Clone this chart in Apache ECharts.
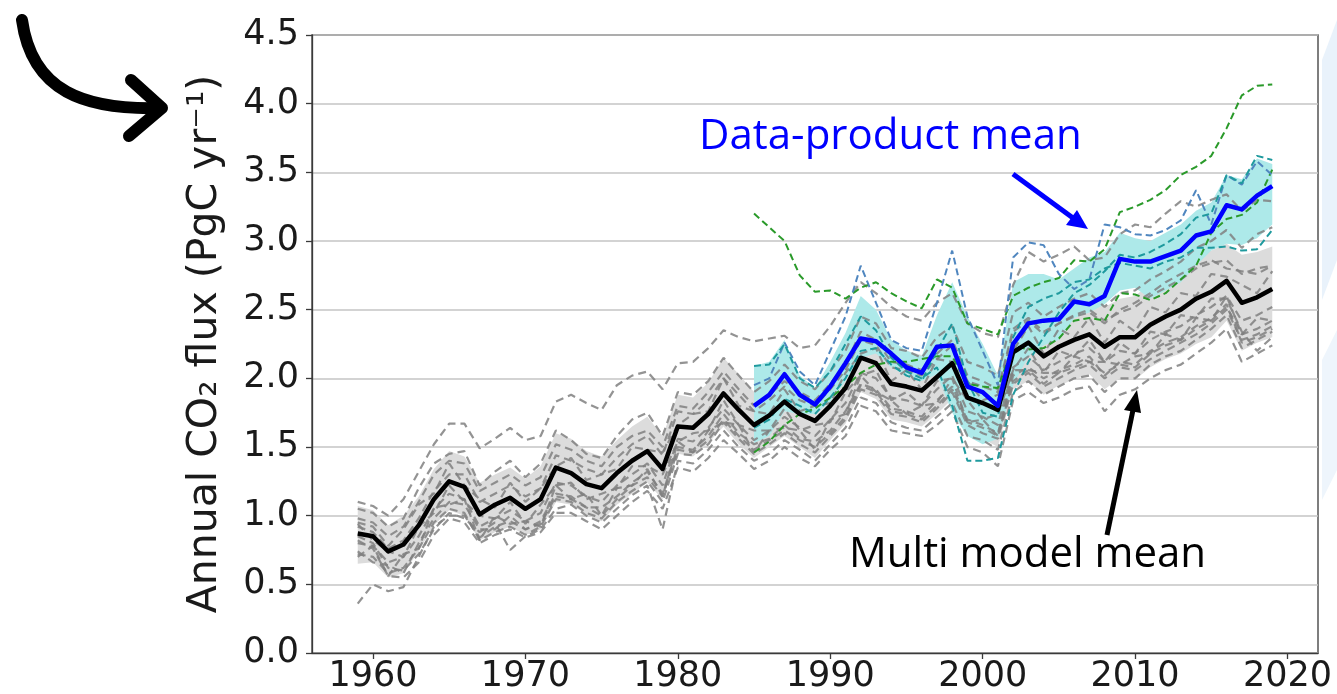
<!DOCTYPE html>
<html><head><meta charset="utf-8">
<script src="https://cdn.jsdelivr.net/npm/echarts@6/dist/echarts.min.js"></script>
<style>html,body{margin:0;padding:0;background:#fff;}#c{width:1337px;height:694px;}</style>
</head><body><div id="c"></div><script>
// ---------- data ----------
const years = []; for (let y = 1959; y <= 2019; y++) years.push(y);
const dpYears = []; for (let y = 1985; y <= 2019; y++) dpYears.push(y);
const xTickLabels = [1960, 1970, 1980, 1990, 2000, 2010, 2020];

const modelMean = [0.87,0.85,0.74,0.79,0.93,1.12,1.25,1.21,1.01,1.08,1.13,1.05,1.12,1.35,1.31,1.23,1.20,1.31,1.40,1.47,1.34,1.65,1.64,1.74,1.89,1.77,1.66,1.73,1.83,1.74,1.69,1.80,1.93,2.15,2.11,1.96,1.94,1.91,2.01,2.11,1.86,1.82,1.77,2.19,2.26,2.16,2.23,2.28,2.32,2.23,2.30,2.30,2.39,2.45,2.50,2.58,2.63,2.71,2.55,2.59,2.65];
const modelLow  = [0.65,0.66,0.55,0.58,0.74,0.93,1.04,1.00,0.82,0.88,0.92,0.86,0.90,1.10,1.08,1.01,0.96,1.08,1.16,1.24,1.12,1.45,1.43,1.53,1.65,1.52,1.42,1.50,1.58,1.50,1.42,1.55,1.67,1.90,1.85,1.70,1.68,1.65,1.74,1.85,1.60,1.56,1.50,1.92,1.98,1.88,1.95,1.99,2.03,1.92,2.00,1.99,2.08,2.14,2.18,2.25,2.30,2.42,2.20,2.26,2.30];
const modelHigh = [1.07,1.04,0.93,1.00,1.14,1.34,1.47,1.43,1.24,1.30,1.35,1.27,1.36,1.60,1.56,1.47,1.43,1.55,1.65,1.72,1.58,1.88,1.86,1.97,2.15,2.03,1.90,1.97,2.07,1.98,1.93,2.05,2.18,2.42,2.36,2.22,2.20,2.17,2.27,2.37,2.12,2.08,2.04,2.45,2.52,2.43,2.50,2.55,2.60,2.52,2.58,2.60,2.69,2.75,2.80,2.88,2.93,2.98,2.90,2.92,2.96];

const models = [
 [1.10,1.07,1.00,1.12,1.32,1.52,1.67,1.67,1.49,1.56,1.64,1.55,1.58,1.83,1.88,1.82,1.77,1.95,2.02,2.05,1.92,2.11,2.12,2.22,2.35,2.30,2.27,2.29,2.31,2.22,2.24,2.38,2.55,2.70,2.62,2.52,2.45,2.42,2.55,2.62,2.40,2.33,2.30,2.68,2.92,2.85,2.90,2.96,2.86,2.88,3.05,3.12,3.10,3.20,3.29,3.25,3.30,3.34,3.22,3.30,3.29],
 [1.05,1.02,0.92,0.98,1.20,1.38,1.45,1.47,1.22,1.32,1.40,1.28,1.38,1.62,1.55,1.45,1.42,1.58,1.70,1.75,1.58,1.90,1.88,1.98,2.15,2.02,1.90,1.98,2.10,1.98,1.92,2.05,2.20,2.45,2.40,2.22,2.20,2.15,2.30,2.38,2.12,2.08,2.02,2.48,2.55,2.45,2.52,2.58,2.62,2.52,2.62,2.64,2.72,2.78,2.85,2.95,3.00,3.08,2.95,3.05,3.10],
 [0.95,0.92,0.78,0.90,1.08,1.16,1.38,1.22,1.12,1.06,1.24,1.10,1.20,1.36,1.42,1.26,1.30,1.34,1.50,1.48,1.46,1.66,1.74,1.76,2.00,1.80,1.76,1.74,1.92,1.76,1.80,1.82,2.04,2.18,2.22,1.98,2.06,1.92,2.14,2.12,1.98,1.84,1.88,2.20,2.38,2.18,2.36,2.30,2.44,2.26,2.42,2.34,2.52,2.48,2.62,2.60,2.76,2.74,2.68,2.62,2.78],
 [0.80,0.78,0.66,0.70,0.85,1.05,1.16,1.12,0.92,0.98,1.04,0.96,1.02,1.24,1.22,1.14,1.10,1.22,1.30,1.38,1.22,1.56,1.54,1.64,1.78,1.66,1.55,1.62,1.72,1.64,1.58,1.70,1.82,2.04,2.00,1.86,1.84,1.80,1.92,2.02,1.76,1.72,1.66,2.08,2.16,2.06,2.12,2.18,2.22,2.12,2.20,2.18,2.28,2.34,2.38,2.46,2.52,2.60,2.42,2.46,2.52],
 [0.70,0.78,0.56,0.72,0.76,1.06,1.08,1.12,0.82,1.00,0.94,0.96,0.92,1.22,1.12,1.16,1.00,1.20,1.22,1.34,1.14,1.54,1.46,1.62,1.68,1.66,1.46,1.62,1.64,1.62,1.48,1.70,1.74,2.02,1.90,1.84,1.74,1.80,1.82,2.00,1.68,1.70,1.58,2.06,2.06,2.04,2.04,2.16,2.12,2.12,2.10,2.16,2.18,2.32,2.28,2.44,2.42,2.60,2.32,2.44,2.42],
 [0.72,0.70,0.58,0.62,0.76,0.95,1.05,1.02,0.82,0.88,0.92,0.86,0.92,1.12,1.10,1.02,0.98,1.10,1.18,1.25,1.10,1.45,1.44,1.52,1.68,1.56,1.45,1.52,1.60,1.52,1.46,1.58,1.70,1.92,1.88,1.74,1.72,1.68,1.78,1.90,1.66,1.60,1.56,1.96,2.04,1.94,2.00,2.06,2.10,2.00,2.08,2.06,2.14,2.20,2.26,2.32,2.40,2.50,2.28,2.32,2.38],
 [0.85,0.80,0.62,0.60,0.72,0.90,1.02,0.98,0.88,0.95,0.75,0.85,0.90,1.05,1.08,1.00,0.95,1.05,1.15,1.22,0.90,1.40,1.38,1.48,1.62,1.50,1.40,1.45,1.55,1.48,1.40,1.52,1.64,1.86,1.82,1.68,1.64,1.62,1.72,1.82,1.58,1.55,1.48,1.90,1.98,1.88,1.94,2.00,2.02,1.90,2.00,2.00,2.10,2.16,2.20,2.28,2.36,2.46,2.22,2.28,2.34],
 [0.36,0.50,0.45,0.48,0.70,0.92,1.00,1.00,0.84,0.92,0.96,0.90,0.94,1.14,1.12,1.06,1.00,1.12,1.22,1.28,1.14,1.48,1.46,1.55,1.70,1.58,1.48,1.55,1.62,1.55,1.50,1.60,1.72,1.95,1.90,1.76,1.74,1.70,1.80,1.92,1.68,1.64,1.58,1.98,2.06,1.96,2.04,2.08,2.12,2.04,2.10,2.08,2.18,2.24,2.28,2.36,2.42,2.52,2.32,2.36,2.42],
 [0.82,0.76,0.56,0.55,0.66,0.86,0.98,0.95,0.80,0.86,0.90,0.84,0.88,1.02,1.02,0.96,0.90,1.00,1.10,1.18,1.05,1.35,1.32,1.42,1.55,1.45,1.34,1.40,1.50,1.42,1.36,1.48,1.58,1.80,1.76,1.62,1.60,1.58,1.66,1.76,1.50,1.46,1.36,1.84,1.90,1.82,1.86,1.92,1.94,1.76,1.88,1.92,2.00,2.06,2.10,2.18,2.26,2.36,2.12,2.18,2.24],
 [0.94,0.82,0.74,0.70,0.92,1.02,1.22,1.10,1.00,0.98,1.10,0.94,1.08,1.22,1.24,1.12,1.16,1.20,1.36,1.36,1.30,1.54,1.60,1.62,1.84,1.66,1.62,1.62,1.78,1.62,1.66,1.68,1.90,2.02,2.06,1.84,1.90,1.80,1.98,2.00,1.84,1.70,1.74,2.06,2.22,2.04,2.20,2.16,2.28,2.12,2.26,2.18,2.34,2.32,2.46,2.44,2.58,2.58,2.34,2.20,2.30],
 [0.98,0.95,0.85,0.92,1.10,1.30,1.40,1.38,1.18,1.24,1.30,1.22,1.28,1.52,1.48,1.40,1.36,1.50,1.58,1.62,1.50,1.80,1.78,1.90,2.05,1.92,1.80,1.88,1.98,1.90,1.84,1.96,2.10,2.34,2.28,2.12,2.10,2.06,2.18,2.28,2.02,1.98,1.92,2.36,2.44,2.34,2.40,2.46,2.50,2.42,2.48,2.52,2.60,2.66,2.72,2.80,2.84,2.86,2.76,2.80,2.82],
 [0.74,0.66,0.64,0.58,0.80,0.98,1.10,1.08,0.90,0.90,1.00,0.90,0.96,1.16,1.14,1.06,1.06,1.14,1.24,1.32,1.16,1.50,1.48,1.58,1.74,1.60,1.52,1.56,1.66,1.56,1.54,1.62,1.76,1.96,1.92,1.78,1.76,1.72,1.84,1.94,1.70,1.66,1.60,2.02,2.08,2.00,2.06,2.10,2.16,2.02,2.12,2.10,2.20,2.26,2.30,2.38,2.44,2.54,2.26,2.30,2.36],
 [0.92,0.88,0.76,0.82,0.98,1.18,1.30,1.30,1.10,1.16,1.22,1.14,1.20,1.44,1.40,1.34,1.30,1.42,1.52,1.58,1.44,1.76,1.74,1.84,2.00,1.88,1.76,1.84,1.94,1.84,1.80,1.92,2.06,2.28,2.24,2.08,2.06,2.02,2.14,2.24,1.98,1.94,1.90,2.34,2.42,2.32,2.40,2.45,2.48,2.40,2.50,2.55,2.62,2.70,2.76,2.82,2.86,2.80,2.78,2.76,2.82]
];

const dpMean = [1.80,1.88,2.03,1.88,1.81,1.94,2.11,2.29,2.27,2.18,2.08,2.04,2.23,2.24,1.94,1.90,1.80,2.25,2.40,2.42,2.43,2.56,2.54,2.60,2.87,2.85,2.85,2.89,2.93,3.04,3.07,3.26,3.23,3.33,3.40];
const dpLow  = [1.53,1.58,1.76,1.74,1.74,1.83,1.98,2.15,2.18,2.08,2.02,1.98,2.03,1.75,1.58,1.52,1.56,1.95,2.16,2.24,2.28,2.44,2.48,2.54,2.64,2.66,2.58,2.64,2.70,2.82,2.93,2.98,2.97,3.02,3.12];
const dpHigh = [2.09,2.12,2.28,2.02,1.93,2.12,2.33,2.60,2.50,2.28,2.20,2.16,2.46,2.70,2.45,2.25,2.02,2.70,2.76,2.76,2.72,2.80,2.88,2.92,3.06,3.02,3.00,3.06,3.12,3.22,3.28,3.48,3.45,3.60,3.56];

const greenHigh = [3.20,3.10,3.00,2.75,2.63,2.64,2.58,2.66,2.70,2.62,2.56,2.51,2.72,2.66,2.40,2.36,2.32,2.60,2.66,2.70,2.73,2.86,2.85,2.94,3.21,3.25,3.30,3.37,3.48,3.54,3.62,3.82,4.06,4.13,4.14];
const greenLow  = [1.46,1.54,1.66,1.74,1.78,1.86,1.94,2.04,2.10,2.12,2.12,2.14,2.16,2.16,1.96,1.94,1.93,2.24,2.21,2.22,2.29,2.42,2.44,2.42,2.62,2.61,2.57,2.62,2.72,2.82,3.06,3.16,3.19,3.28,3.52];
const steelBlue = [1.95,2.00,2.26,2.05,1.95,2.20,2.45,2.82,2.55,2.28,2.22,2.20,2.55,2.93,2.45,2.20,1.95,2.88,2.99,2.97,2.76,2.65,2.72,3.12,3.10,3.05,3.04,3.08,3.15,3.37,3.12,3.48,3.41,3.58,3.48];
const tealA = [2.09,2.10,2.25,2.00,1.93,2.05,2.25,2.45,2.35,2.15,2.05,2.00,2.08,1.80,1.40,1.40,1.42,1.88,2.12,2.30,2.48,2.62,2.68,2.78,2.90,2.88,2.92,2.98,3.05,3.17,3.20,3.48,3.42,3.62,3.59];
const tealB = [1.64,1.70,1.85,1.80,1.74,1.86,2.00,2.20,2.22,2.10,2.02,1.98,2.20,2.40,1.98,1.75,1.72,2.30,2.52,2.58,2.62,2.70,2.72,2.80,2.84,2.82,2.80,2.85,2.88,2.95,2.95,2.96,2.93,2.94,3.08];

// ---------- chart ----------
const pairs = (xs, vs) => xs.map((x, i) => [x, vs[i]]);
function band(xs, lo, hi, color, z) {
  return {
    type: 'custom', z: z, silent: true, clip: true,
    data: [[xs[0], lo[0]]],
    renderItem: function (params, api) {
      const pts = [];
      for (let i = 0; i < xs.length; i++) pts.push(api.coord([xs[i], hi[i]]));
      for (let i = xs.length - 1; i >= 0; i--) pts.push(api.coord([xs[i], lo[i]]));
      return { type: 'polygon', shape: { points: pts }, style: { fill: color } };
    }
  };
}
function dashed(xs, vs, color, z, w, dash) {
  return { type: 'line', data: pairs(xs, vs), symbol: 'none', z: z, silent: true,
    lineStyle: { color: color, width: w || 2, type: dash || [7, 4] } };
}

const series = [];
series.push(band(years, modelLow, modelHigh, '#dcdcdc', 1));
series.push(band(dpYears, dpLow, dpHigh, '#ade9e9', 2));
models.forEach(m => series.push(dashed(years, m, 'rgba(128,128,128,0.85)', 3, 2.2, [8, 5])));
series.push(dashed(dpYears, greenHigh, '#2a9a2a', 4, 2));
series.push(dashed(dpYears, greenLow, '#2a9a2a', 4, 2));
series.push(dashed(dpYears, steelBlue, '#4f86bf', 4, 2));
series.push(dashed(dpYears, tealA, '#1f9a9e', 4, 2));
series.push(dashed(dpYears, tealB, '#1f9a9e', 4, 2));
series.push({ type: 'line', data: pairs(years, modelMean), symbol: 'none', z: 5, silent: true,
  lineStyle: { color: '#000', width: 4.5, join: 'round' } });
series.push({ type: 'line', data: pairs(dpYears, dpMean), symbol: 'none', z: 6, silent: true,
  lineStyle: { color: '#0000ff', width: 4.5, join: 'round' } });

const tickFont = { fontFamily: 'DejaVu Sans', fontSize: 35, color: '#1a1a1a' };

const option = {
  animation: false,
  backgroundColor: '#ffffff',
  grid: { left: 312, right: 19, top: 35, bottom: 39, show: true, borderColor: '#3a3a3a', borderWidth: 1.3, backgroundColor: '#ffffff' },
  xAxis: {
    type: 'value', min: 1956, max: 2022,
    axisLine: { show: true, lineStyle: { color: '#3a3a3a', width: 1.3 } },
    axisTick: { show: true, length: 6, customValues: xTickLabels, lineStyle: { color: '#3a3a3a', width: 1.3 } },
    axisLabel: Object.assign({ margin: 6, customValues: xTickLabels, formatter: v => String(v) }, tickFont),
    splitLine: { show: false }
  },
  yAxis: {
    type: 'value', min: 0, max: 4.5, interval: 0.5,
    name: 'Annual CO\u2082 flux (PgC yr\u207B\u00B9)', nameLocation: 'middle', nameGap: 86,
    nameTextStyle: { fontFamily: 'DejaVu Sans', fontSize: 41, color: '#1a1a1a' },
    axisLine: { show: true, lineStyle: { color: '#3a3a3a', width: 1.3 } },
    axisTick: { show: true, length: 6, lineStyle: { color: '#3a3a3a', width: 1.3 } },
    axisLabel: Object.assign({ margin: 13, formatter: v => v.toFixed(1) }, tickFont),
    splitLine: { show: true, lineStyle: { color: '#c4c4c4', width: 1.6 } }
  },
  series: series,
  graphic: [
    { type: 'polygon', z: -10, silent: true, shape: { points: [[1322, 60], [1337, 20], [1337, 260], [1322, 300]] }, style: { fill: '#e9f2fb' } },
    { type: 'polygon', z: -10, silent: true, shape: { points: [[1322, 360], [1337, 330], [1337, 470], [1322, 500]] }, style: { fill: '#eef5fc' } },
    { type: 'text', x: 699, y: 137, z: 20, silent: true, style: { text: 'Data-product mean', fontFamily: 'Open Sans', fontSize: 42, fill: '#0000ff', verticalAlign: 'middle' } },
    { type: 'text', x: 849, y: 555, z: 20, silent: true, style: { text: 'Multi model mean', fontFamily: 'Open Sans', fontSize: 42, fill: '#000000', verticalAlign: 'middle' } },
    { type: 'line', z: 20, silent: true, shape: { x1: 1013, y1: 174, x2: 1073, y2: 218 }, style: { stroke: '#0000ff', lineWidth: 5 } },
    { type: 'polygon', z: 20, silent: true, shape: { points: [[1088, 229], [1066, 225], [1077, 210]] }, style: { fill: '#0000ff' } },
    { type: 'line', z: 20, silent: true, shape: { x1: 1107, y1: 535, x2: 1133, y2: 410 }, style: { stroke: '#000', lineWidth: 5 } },
    { type: 'polygon', z: 20, silent: true, shape: { points: [[1137, 390], [1141, 413], [1124, 410]] }, style: { fill: '#000' } },
    { type: 'bezierCurve', z: 20, silent: true, shape: { x1: 22, y1: 20, cpx1: 32, cpy1: 92, cpx2: 85, cpy2: 110, x2: 160, y2: 108 }, style: { stroke: '#000', lineWidth: 12, lineCap: 'round', fill: null } },
    { type: 'polyline', z: 20, silent: true, shape: { points: [[131, 80], [162, 108], [129, 136]] }, style: { stroke: '#000', lineWidth: 12, lineCap: 'round', lineJoin: 'round', fill: null } }
  ]
};
echarts.init(document.getElementById('c'), null, { renderer: 'canvas' }).setOption(option);
</script></body></html>
